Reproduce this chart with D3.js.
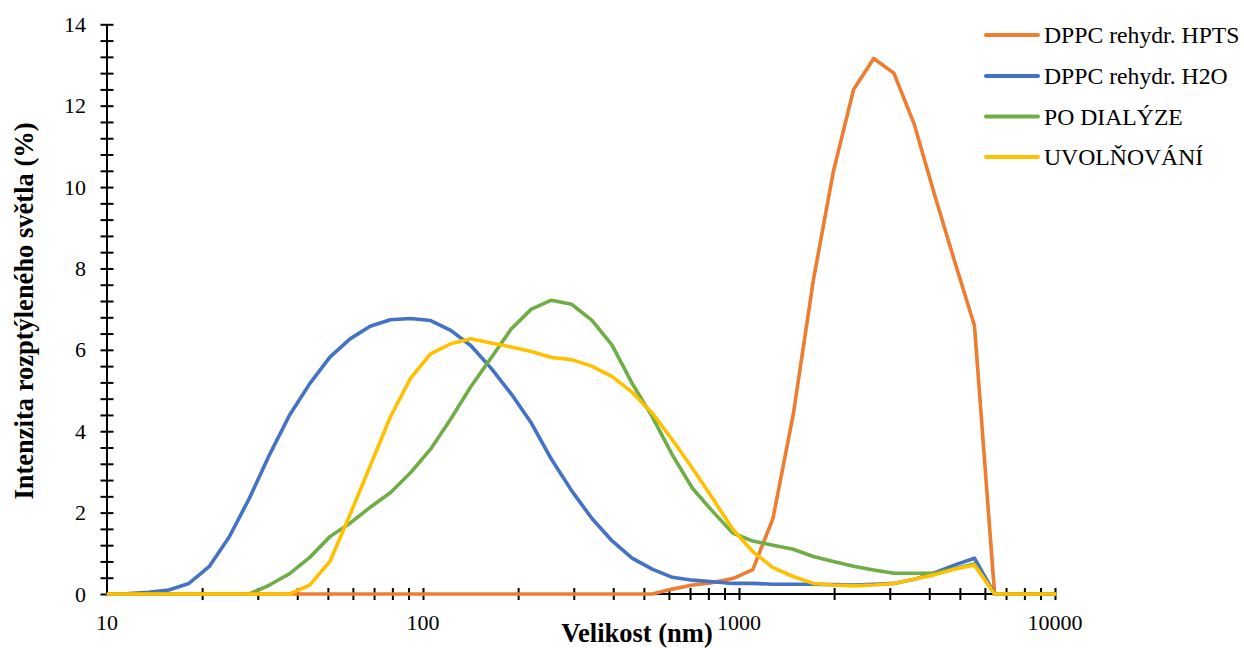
<!DOCTYPE html>
<html>
<head>
<meta charset="utf-8">
<script src="https://cdn.jsdelivr.net/npm/d3@7"></script>
<style>
  html, body { margin: 0; padding: 0; background: #fff; }
  svg { display: block; }
  text { font-family: "Liberation Serif", "Times New Roman", serif; fill: #000; }
</style>
</head>
<body>
<svg id="chart" width="1244" height="648"></svg>
<script>
// ---- data ----
const sizes = [10.1, 11.7, 13.54, 15.69, 18.17, 21.04, 24.36, 28.21, 32.67, 37.84,
  43.82, 50.75, 58.77, 68.06, 78.82, 91.28, 105.7, 122.4, 141.8, 164.2,
  190.1, 220.2, 255.0, 295.3, 342.0, 396.1, 458.7, 531.2, 615.1, 712.4,
  825.0, 955.4, 1106, 1281, 1484, 1718, 1990, 2305, 2669, 3091,
  3580, 4145, 4801, 5560, 6439, 7456, 8635, 10000];

const hpts = [0, 0, 0, 0, 0, 0, 0, 0, 0, 0,
  0, 0, 0, 0, 0, 0, 0, 0, 0, 0,
  0, 0, 0, 0, 0, 0, 0, 0, 0.12, 0.22,
  0.28, 0.38, 0.6, 1.86, 4.4, 7.7, 10.39, 12.4, 13.16, 12.8,
  11.56, 9.85, 8.2, 6.6, 0, 0, 0, 0];

const h2o = [0, 0.01, 0.04, 0.1, 0.26, 0.67, 1.4, 2.35, 3.42, 4.4,
  5.17, 5.82, 6.27, 6.58, 6.74, 6.77, 6.72, 6.48, 6.1, 5.55,
  4.92, 4.2, 3.31, 2.54, 1.86, 1.31, 0.88, 0.61, 0.41, 0.34,
  0.3, 0.26, 0.26, 0.24, 0.24, 0.24, 0.23, 0.22, 0.24, 0.26,
  0.36, 0.52, 0.71, 0.88, 0, 0, 0, 0];

const dialyza = [0, 0, 0, 0, 0, 0, 0, 0, 0.22, 0.5,
  0.9, 1.41, 1.74, 2.13, 2.49, 2.98, 3.56, 4.3, 5.1, 5.8,
  6.51, 7.0, 7.22, 7.12, 6.73, 6.12, 5.18, 4.36, 3.42, 2.6,
  2.03, 1.5, 1.3, 1.2, 1.1, 0.92, 0.8, 0.68, 0.59, 0.51,
  0.51, 0.51, 0.62, 0.74, 0, 0, 0, 0];

const uvolnovani = [0, 0, 0, 0, 0, 0, 0, 0, 0, 0,
  0.22, 0.8, 1.95, 3.15, 4.35, 5.3, 5.9, 6.15, 6.27, 6.17,
  6.07, 5.96, 5.81, 5.76, 5.6, 5.35, 4.96, 4.45, 3.79, 3.09,
  2.35, 1.59, 1.04, 0.65, 0.43, 0.26, 0.22, 0.2, 0.22, 0.26,
  0.36, 0.47, 0.61, 0.71, 0, 0, 0, 0];

const seriesNames = ["DPPC rehydr. HPTS", "DPPC rehydr. H2O", "PO DIALÝZE", "UVOLŇOVÁNÍ"];
const seriesColors = ["#ED7D31", "#4472C4", "#70AD47", "#FFC000"];
const seriesValues = [hpts, h2o, dialyza, uvolnovani];

const xTickLabels = [10, 100, 1000, 10000];
const yTickLabels = [0, 2, 4, 6, 8, 10, 12, 14];
const xTitle = "Velikost (nm)";
const yTitle = "Intenzita rozptýleného světla (%)";

// ---- layout ----
const svg = d3.select("#chart");
const plotL = 107, plotR = 1055, plotT = 24.3, plotB = 594;

const x = d3.scaleLog().domain([10, 10000]).range([plotL, plotR]);
const y = d3.scaleLinear().domain([0, 14]).range([plotB, plotT]);

// y axis (ticks crossing the axis)
const yMinor = d3.range(0, 14.0001, 0.4);
const yAxisG = svg.append("g").attr("transform", `translate(${plotL},0)`);
yAxisG.call(d3.axisLeft(y).tickValues(yMinor).tickSize(6.5).tickFormat(""));
yAxisG.call(g => g.selectAll(".tick line").attr("x2", -6.5).clone().attr("x2", 6.5));
yAxisG.select(".domain").remove();
yAxisG.selectAll("line").attr("stroke", "#000").attr("stroke-width", 2);

svg.append("g").selectAll("text").data(yTickLabels).join("text")
  .attr("x", 86).attr("y", d => y(d) + 7.5)
  .attr("text-anchor", "end").attr("font-size", 22).text(d => d);

// x axis
const xMinor = [];
[10, 100, 1000].forEach(dec => { for (let k = 2; k <= 10; k++) xMinor.push(dec * k); });
const xAxisG = svg.append("g").attr("transform", `translate(0,${plotB})`);
xAxisG.call(d3.axisBottom(x).tickValues(xMinor).tickSize(6).tickFormat(""));
xAxisG.call(g => g.selectAll(".tick line").attr("y2", 6).clone().attr("y2", -6));
xAxisG.select(".domain").remove();
xAxisG.selectAll("line").attr("stroke", "#000").attr("stroke-width", 2);

svg.append("g").selectAll("text").data(xTickLabels).join("text")
  .attr("x", d => x(d)).attr("y", 630)
  .attr("text-anchor", "middle").attr("font-size", 22).text(d => d);

// axis lines
svg.append("line").attr("x1", plotL).attr("x2", plotL).attr("y1", plotT).attr("y2", plotB)
  .attr("stroke", "#000").attr("stroke-width", 2);
svg.append("line").attr("x1", plotL).attr("x2", plotR).attr("y1", plotB).attr("y2", plotB)
  .attr("stroke", "#000").attr("stroke-width", 2);

// series
const line = d3.line().x(d => x(d[0])).y(d => y(d[1]));
seriesValues.forEach((vals, i) => {
  svg.append("path")
    .datum(sizes.map((s, j) => [s, vals[j]]))
    .attr("fill", "none")
    .attr("stroke", seriesColors[i])
    .attr("stroke-width", 3.6)
    .attr("stroke-linejoin", "round")
    .attr("stroke-linecap", "round")
    .attr("d", line);
});

// axis titles
svg.append("text")
  .attr("x", 637).attr("y", 642)
  .attr("text-anchor", "middle").attr("font-size", 26.5).attr("font-weight", "bold")
  .text(xTitle);
svg.append("text")
  .attr("transform", "translate(33,311) rotate(-90)")
  .attr("text-anchor", "middle").attr("font-size", 26.5).attr("font-weight", "bold")
  .text(yTitle);

// legend
const legendY = [35, 76, 116.5, 157];
const lg = svg.append("g");
seriesNames.forEach((name, i) => {
  lg.append("line")
    .attr("x1", 986).attr("x2", 1038)
    .attr("y1", legendY[i]).attr("y2", legendY[i])
    .attr("stroke", seriesColors[i]).attr("stroke-width", 4).attr("stroke-linecap", "round");
  lg.append("text")
    .attr("x", 1044).attr("y", legendY[i] + 8.3)
    .attr("font-size", 23.7).text(name);
});
</script>
</body>
</html>
